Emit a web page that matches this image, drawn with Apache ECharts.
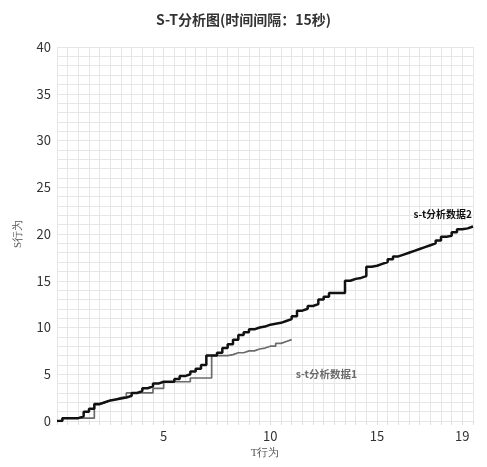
<!DOCTYPE html>
<html><head><meta charset="utf-8">
<script src="https://cdn.jsdelivr.net/npm/echarts@6/dist/echarts.min.js"></script>
<style>html,body{margin:0;padding:0;background:#fff}#c{width:487px;height:467px}</style>
</head><body><div id="c"></div>
<script>
const titleText = 'S-T分析图(时间间隔：15秒)';
const seriesNames = ['s-t分析数据1', 's-t分析数据2'];
const xLabelsShown = [5, 10, 15, 19];
const yLabelsShown = [0, 5, 10, 15, 20, 25, 30, 35, 40];
// T values (x), step 0.25
const t1 = [0,0.25,0.5,0.75,1,1.25,1.5,1.75,2,2.25,2.5,2.75,3,3.25,3.5,3.75,4,4.25,4.5,4.75,5,5.25,5.5,5.75,6,6.25,6.5,6.75,7,7.25,7.5,7.75,8,8.25,8.5,8.75,9,9.25,9.5,9.75,10,10.25,10.5,10.75,11];
const s1 = [0,0.3,0.3,0.3,0.3,0.3,0.3,1.9,2.0,2.2,2.3,2.5,2.6,3.0,3.0,3.0,3.0,3.0,3.5,3.5,4.2,4.2,4.2,4.2,4.2,4.6,4.6,4.6,4.6,7.0,7.0,7.0,7.1,7.3,7.3,7.5,7.5,7.7,7.8,8.0,8.0,8.3,8.5,8.7,8.7];
const t2 = [0,0.25,0.5,0.75,1,1.25,1.5,1.75,2,2.25,2.5,2.75,3,3.25,3.5,3.75,4,4.25,4.5,4.75,5,5.25,5.5,5.75,6,6.25,6.5,6.75,7,7.25,7.5,7.75,8,8.25,8.5,8.75,9,9.25,9.5,9.75,10,10.25,10.5,10.75,11,11.25,11.5,11.75,12,12.25,12.5,12.75,13,13.25,13.5,13.75,14,14.25,14.5,14.75,15,15.25,15.5,15.75,16,16.25,16.5,16.75,17,17.25,17.5,17.75,18,18.25,18.5,18.75,19,19.25,19.5];
const s2 = [0,0.3,0.3,0.3,0.5,1.0,1.3,1.8,2.0,2.2,2.3,2.4,2.5,2.7,3.0,3.2,3.5,3.7,4.0,4.2,4.2,4.2,4.5,4.8,5.0,5.3,5.6,6.0,7.0,7.0,7.3,7.8,8.2,8.7,9.2,9.5,9.8,10.0,10.1,10.3,10.4,10.5,10.7,10.9,11.2,11.8,12.0,12.3,12.5,13.0,13.3,13.7,13.7,13.7,15.0,15.2,15.3,15.5,16.5,16.6,16.8,17.0,17.3,17.6,17.8,18.0,18.2,18.4,18.6,18.8,19.0,19.3,19.7,19.8,20.2,20.5,20.6,20.8,20.8];

const font = '"Noto Sans CJK SC", "Noto Sans", sans-serif';
const chart = echarts.init(document.getElementById('c'));
chart.setOption({
  animation: false,
  title: { text: titleText, left: 'center', top: 8,
    textStyle: { fontFamily: font, fontSize: 14, fontWeight: 'bold', color: '#333' } },
  grid: { left: 57, right: 14, top: 47, bottom: 46 },
  xAxis: {
    type: 'value', min: 0, max: 19.5, interval: 0.5,
    name: 'T行为', nameLocation: 'middle', nameGap: 27,
    nameTextStyle: { fontFamily: 'serif', fontSize: 11, color: '#555' },
    axisLine: { show: false },
    axisTick: { show: true, length: 4, lineStyle: { color: '#ddd' } },
    axisLabel: { fontFamily: font, fontSize: 13, color: '#333', margin: 9,
      formatter: v => xLabelsShown.includes(Math.round(v*100)/100) ? String(v) : '' },
    splitLine: { show: true, lineStyle: { color: '#e6e6e6', width: 1 } }
  },
  yAxis: {
    type: 'value', min: 0, max: 40, interval: 1,
    name: 'S行为', nameLocation: 'middle', nameGap: 33, nameRotate: 90,
    nameTextStyle: { fontFamily: 'serif', fontSize: 11, color: '#555' },
    axisLine: { show: false }, axisTick: { show: false },
    axisLabel: { fontFamily: font, fontSize: 13, color: '#333', margin: 6,
      formatter: v => yLabelsShown.includes(v) ? String(v) : '' },
    splitLine: { show: true, lineStyle: { color: '#e6e6e6', width: 1 } }
  },
  series: [
    { name: seriesNames[0], type: 'line', step: 'end', symbol: 'none',
      data: t1.map((t, i) => [t, s1[i]]),
      lineStyle: { color: '#6b6b6b', width: 1.7 },
      endLabel: { show: true, formatter: seriesNames[0], align: 'left', distance: 0, offset: [4, 34],
        fontFamily: font, fontSize: 10.5, fontWeight: 'bold', color: '#6b6b6b' } },
    { name: seriesNames[1], type: 'line', step: 'end', symbol: 'none',
      data: t2.map((t, i) => [t, s2[i]]),
      lineStyle: { color: '#111', width: 2.5 },
      endLabel: { show: true, formatter: seriesNames[1], align: 'right', distance: 0, offset: [-1, -12],
        fontFamily: font, fontSize: 10, fontWeight: 'bold', color: '#111' } }
  ]
});
</script></body></html>
